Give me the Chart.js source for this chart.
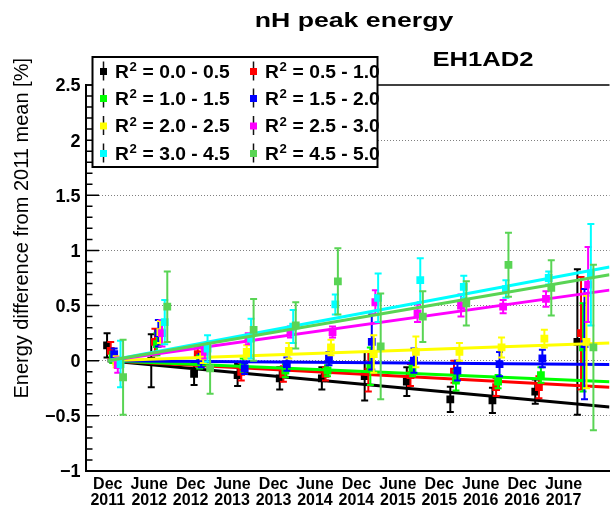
<!DOCTYPE html>
<html>
<head>
<meta charset="utf-8">
<script src="https://cdn.jsdelivr.net/npm/chart.js@4.4.1/dist/chart.umd.min.js"></script>
<style>
  html, body { margin: 0; padding: 0; background: #fff; }
  #wrap { width: 615px; height: 510px; }
</style>
</head>
<body>
<div id="wrap"><canvas id="nh-peak"></canvas></div>
<script>
// nH peak energy drift for EH1AD2, one series per R^2 bin, with linear fits

const tickMonths = [0, 6, 12, 18, 24, 30, 36, 42, 48, 54, 60, 66];
const tickLabels = [
  ['Dec', '2011'], ['June', '2012'], ['Dec', '2012'], ['June', '2013'],
  ['Dec', '2013'], ['June', '2014'], ['Dec', '2014'], ['June', '2015'],
  ['Dec', '2015'], ['June', '2016'], ['Dec', '2016'], ['June', '2017']
];

// months since Dec 2011 for each period; every R^2 bin is drawn slightly to the right
const periodMonths = [-0.1, 6.3, 12.5, 18.8, 24.9, 31.0, 37.2, 43.3, 49.6, 55.7, 61.9, 68.0];
const binShift = [0, 0.53, 0.82, 1.03, 1.32, 1.55, 1.95, 2.32];

const binNames = ['0.0 - 0.5', '0.5 - 1.0', '1.0 - 1.5', '1.5 - 2.0',
                  '2.0 - 2.5', '2.5 - 3.0', '3.0 - 4.5', '4.5 - 5.0'];
const binColors = ['#000000', '#ff0000', '#00ff00', '#0000ff',
                   '#ffff00', '#ff00ff', '#00ffff', '#59d454'];

// energy difference from 2011 mean [%] and its error
const diffBin1 = [0.14, 0.0, -0.12, -0.13, -0.16, -0.16, -0.14, -0.19, -0.35, -0.36, -0.28, 0.17];
const errBin1  = [0.11, 0.24, 0.10, 0.10, 0.10, 0.10, 0.22, 0.13, 0.115, 0.115, 0.11, 0.66];
const diffBin2 = [0.09, 0.17, 0.06, -0.10, -0.12, -0.12, -0.10, -0.13, -0.10, -0.24, -0.24, 0.25];
const errBin2  = [0.08, 0.12, 0.07, 0.08, 0.07, 0.06, 0.18, 0.10, 0.10, 0.08, 0.10, 0.51];
const diffBin3 = [0.03, 0.15, -0.01, -0.04, -0.09, -0.09, -0.05, -0.07, -0.18, -0.19, -0.13, 0.12];
const errBin3  = [0.05, 0.10, 0.06, 0.06, 0.06, 0.05, 0.17, 0.07, 0.09, 0.06, 0.07, 0.40];
const diffBin4 = [0.06, 0.25, 0.0, -0.07, -0.03, 0.02, 0.17, 0.0, -0.09, -0.03, 0.02, 0.15];
const errBin4  = [0.05, 0.12, 0.06, 0.05, 0.06, 0.06, 0.25, 0.11, 0.09, 0.11, 0.08, 0.50];
const diffBin5 = [-0.01, 0.26, 0.04, 0.08, 0.09, 0.12, 0.06, 0.08, 0.08, 0.12, 0.20, 0.17];
const errBin5  = [0.05, 0.10, 0.06, 0.06, 0.07, 0.07, 0.17, 0.14, 0.08, 0.09, 0.08, 0.42];
const diffBin6 = [-0.04, 0.25, 0.08, 0.20, 0.26, 0.26, 0.53, 0.43, 0.50, 0.49, 0.56, 0.69];
const errBin6  = [0.07, 0.12, 0.06, 0.05, 0.05, 0.05, 0.11, 0.08, 0.10, 0.06, 0.07, 0.34];
const diffBin7 = [-0.03, 0.35, 0.11, 0.20, 0.31, 0.51, 0.57, 0.73, 0.67, 0.65, 0.75, 0.78];
const errBin7  = [0.21, 0.20, 0.12, 0.18, 0.15, 0.09, 0.22, 0.20, 0.10, 0.08, 0.06, 0.46];
const diffBin8 = [-0.15, 0.49, -0.07, 0.28, 0.32, 0.72, 0.13, 0.40, 0.52, 0.87, 0.66, 0.12];
const errBin8  = [0.34, 0.32, 0.23, 0.28, 0.21, 0.30, 0.48, 0.23, 0.20, 0.29, 0.25, 0.75];

// straight-line fits, given by their value at both ends of the range
const fitStartMonth = 0;
const fitEndMonth = 72.65;
const fitStartValue = [0, 0, 0, 0, 0, 0, 0, 0];
const fitEndValue = [-0.42, -0.24, -0.19, -0.035, 0.16, 0.64, 0.85, 0.78];

const diffs = [diffBin1, diffBin2, diffBin3, diffBin4, diffBin5, diffBin6, diffBin7, diffBin8];
const errs = [errBin1, errBin2, errBin3, errBin4, errBin5, errBin6, errBin7, errBin8];

const Y_MIN = -1, Y_MAX = 2.5, X_MIN = -3.15, X_MAX = 72.65;
const FONT = '"Liberation Sans", Arial, Helvetica, sans-serif';

// later bins are painted on top, the fit after its points
const datasets = [];
binNames.forEach((name, k) => {
  datasets.push({
    label: 'R2 = ' + name,
    data: periodMonths.map((m, i) => ({ x: m + binShift[k], y: diffs[k][i] })),
    errors: errs[k],
    backgroundColor: binColors[k],
    borderColor: binColors[k],
    pointStyle: 'rect',
    pointRadius: 5.5,
    pointBorderWidth: 0,
    showLine: false,
    order: 2 * (7 - k) + 1,
  });
  datasets.push({
    label: 'fit ' + name,
    data: [
      { x: fitStartMonth, y: fitStartValue[k] },
      { x: fitEndMonth, y: fitEndValue[k] },
    ],
    borderColor: binColors[k],
    borderWidth: 3,
    pointRadius: 0,
    showLine: true,
    tension: 0,
    order: 2 * (7 - k),
  });
});

// vertical error bars with small caps, under each marker set
const errorBars = {
  id: 'errorBars',
  beforeDatasetDraw(chart, args) {
    const ds = chart.data.datasets[args.index];
    if (!ds.errors) return;
    const { ctx, chartArea: a, scales: { y } } = chart;
    ctx.save();
    ctx.beginPath();
    ctx.rect(a.left, a.top, a.right - a.left, a.bottom - a.top);
    ctx.clip();
    ctx.strokeStyle = ds.backgroundColor;
    ctx.lineWidth = 2;
    args.meta.data.forEach((pt, i) => {
      const v = ds.data[i].y, e = ds.errors[i];
      const top = y.getPixelForValue(v + e);
      const bot = y.getPixelForValue(v - e);
      const x = pt.x;
      ctx.beginPath();
      ctx.moveTo(x, top); ctx.lineTo(x, bot);
      ctx.moveTo(x - 3.5, top); ctx.lineTo(x + 3.5, top);
      ctx.moveTo(x - 3.5, bot); ctx.lineTo(x + 3.5, bot);
      ctx.stroke();
    });
    ctx.restore();
  }
};

// inward tick marks on the y axis and the top edge of the frame
const frame = {
  id: 'frame',
  afterDatasetsDraw(chart) {
    const { ctx, chartArea: a, scales: { y } } = chart;
    ctx.save();
    ctx.strokeStyle = '#000';
    ctx.lineWidth = 1.5;
    ctx.beginPath();
    for (let k = 0; k <= 35; k++) {
      const py = y.getPixelForValue(Y_MIN + k * 0.1);
      const len = k % 5 === 0 ? 13 : 6.5;
      ctx.moveTo(a.left, py);
      ctx.lineTo(a.left + len, py);
    }
    ctx.stroke();
    ctx.beginPath();
    ctx.moveTo(a.left, a.top);
    ctx.lineTo(a.right, a.top);
    ctx.stroke();
    ctx.restore();
  }
};

function wideText(ctx, text, x, y, sx, align) {
  ctx.save();
  ctx.translate(x, y);
  ctx.scale(sx, 1);
  ctx.textAlign = align;
  ctx.fillText(text, 0, 0);
  ctx.restore();
}

// titles, y axis title and the two-column legend
const annotations = {
  id: 'annotations',
  afterDraw(chart) {
    const ctx = chart.ctx;
    ctx.save();
    ctx.fillStyle = '#000';
    ctx.textBaseline = 'alphabetic';

    ctx.font = 'bold 21px ' + FONT;
    wideText(ctx, 'nH peak energy', 354, 27, 1.27, 'center');
    ctx.font = 'bold 20px ' + FONT;
    wideText(ctx, 'EH1AD2', 483, 66, 1.28, 'center');

    ctx.save();
    ctx.font = '20px ' + FONT;
    ctx.translate(27.5, 58);
    ctx.rotate(-Math.PI / 2);
    ctx.textAlign = 'right';
    ctx.fillText('Energy difference from 2011 mean [%]', 0, 0);
    ctx.restore();

    // legend box
    ctx.fillStyle = '#fff';
    ctx.fillRect(92.5, 57, 285, 110);
    ctx.strokeStyle = '#000';
    ctx.lineWidth = 2;
    ctx.strokeRect(92.5, 57, 285, 110);

    const rowMid = [71.5, 98.5, 126, 153.5];
    const colMarker = [103.5, 253.5];
    const colText = [115, 265];
    binNames.forEach((name, k) => {
      const r = Math.floor(k / 2), c = k % 2;
      const mx = colMarker[c], my = rowMid[r];
      ctx.strokeStyle = '#111';
      ctx.lineWidth = 1.5;
      ctx.beginPath();
      ctx.moveTo(mx, my - 10);
      ctx.lineTo(mx, my + 9);
      ctx.stroke();
      ctx.fillStyle = binColors[k];
      ctx.fillRect(mx - 3.5, my - 3.5, 7, 7);

      ctx.fillStyle = '#000';
      const base = my + 6;
      ctx.font = 'bold 17.5px ' + FONT;
      wideText(ctx, 'R', colText[c], base, 1.1, 'left');
      const rw = ctx.measureText('R').width * 1.1;
      ctx.font = 'bold 12px ' + FONT;
      wideText(ctx, '2', colText[c] + rw + 0.5, base - 6.5, 1.1, 'left');
      const sw = ctx.measureText('2').width * 1.1;
      ctx.font = 'bold 17.5px ' + FONT;
      wideText(ctx, ' = ' + name, colText[c] + rw + sw + 1, base, 1.1, 'left');
    });
    ctx.restore();
  }
};

Chart.defaults.font.family = FONT;
Chart.defaults.color = '#000';

new Chart(document.getElementById('nh-peak'), {
  type: 'scatter',
  data: { datasets },
  options: {
    responsive: true,
    maintainAspectRatio: false,
    animation: false,
    layout: { padding: { top: 85, right: 0, bottom: 0, left: 0 } },
    plugins: {
      legend: { display: false },
      tooltip: { enabled: false },
    },
    scales: {
      x: {
        type: 'linear',
        min: X_MIN,
        max: X_MAX,
        afterFit: s => { s.height = 39; },
        afterBuildTicks: s => { s.ticks = tickMonths.map(v => ({ value: v })); },
        grid: { display: false, drawTicks: false },
        border: { display: true, color: '#000', width: 2 },
        ticks: {
          autoSkip: false,
          maxRotation: 0,
          padding: 5,
          color: '#000',
          font: { size: 16, weight: 'bold', lineHeight: 1.02 },
          callback: (v, i) => tickLabels[i],
        },
      },
      y: {
        min: Y_MIN,
        max: Y_MAX,
        afterFit: s => { s.width = 86; },
        grid: {
          drawTicks: false,
          lineWidth: 1,
          color: c => (c.tick && (c.tick.value === Y_MIN || c.tick.value === Y_MAX)) ? 'rgba(0,0,0,0)' : '#808080',
        },
        border: { display: true, color: '#000', width: 2, dash: [1, 2] },
        ticks: {
          stepSize: 0.5,
          padding: 5.5,
          labelOffset: 1.5,
          color: '#000',
          font: { size: 18, weight: 'bold' },
          callback: v => (v < 0 ? '\u2212' + String(-v) : String(v)),
        },
      },
    },
  },
  plugins: [errorBars, frame, annotations],
});
</script>
</body>
</html>
